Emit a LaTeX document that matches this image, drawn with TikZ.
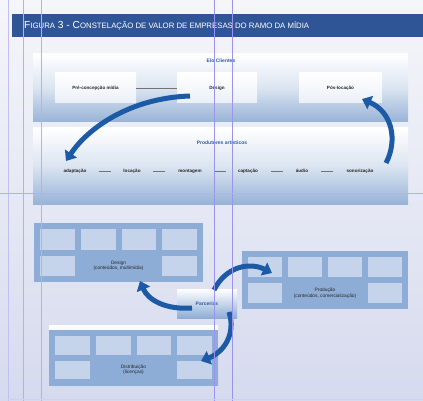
\documentclass[tikz,border=0pt]{standalone}
\usepackage{fontspec}
\setmainfont{Liberation Sans}
\usetikzlibrary{arrows.meta,calc}
\definecolor{bgtop}{HTML}{F5F6FA}
\definecolor{bgbot}{HTML}{D6DAEE}
\definecolor{titlebar}{HTML}{2F5597}
\definecolor{panelblue}{HTML}{98B3D6}
\definecolor{boxblue}{HTML}{8EADD6}
\definecolor{cellc}{HTML}{C6D4EB}
\definecolor{arrowc}{HTML}{1C5AA6}
\definecolor{ptitle}{HTML}{2A5DA8}
\definecolor{guidecyan}{HTML}{5FDCEA}
\definecolor{guidepurple}{HTML}{9A94EA}
\tikzset{
  panel/.style={inner sep=0, outer sep=0, top color=white, bottom color=panelblue, middle color=white!65!panelblue},
  wbox/.style={inner sep=0, outer sep=0, top color=white, bottom color=white!80!panelblue, font=\fontsize{4.6}{5}\selectfont\bfseries, text=black!85},
  gbox/.style={inner sep=0, outer sep=0, fill=boxblue},
  glabel/.style={font=\fontsize{4.8}{5.6}\selectfont, align=center, text=black!85},
  ptext/.style={font=\fontsize{5}{6}\selectfont\bfseries, text=ptitle},
  item/.style={font=\fontsize{4.6}{5}\selectfont\bfseries, text=black!85, inner sep=1pt, text height=3.4pt, text depth=1pt},
  dashline/.style={draw=black!55, line width=0.4pt},
  bigarrow/.style={draw=arrowc, line width=5pt, -{Triangle[length=9pt,width=14pt]}},
  guidev/.style={line width=0.6pt}
}
\newcommand\gridbox[6]{%
  \node[gbox, minimum width=#4, minimum height=#5, anchor=north west] (#1) at (#2,#3) {};
  \pgfmathsetmacro\cw{(#4-30)/4}
  \pgfmathsetmacro\ch{(#5-18)/2}
  \foreach \i in {0,1,2,3} {
    \fill[cellc] ({#2+6+\i*(\cw+6)},{#3+6}) rectangle ++(\cw,\ch);
  }
  \fill[cellc] ({#2+6},{#3+12+\ch}) rectangle ++(\cw,\ch);
  \fill[cellc] ({#2+6+3*(\cw+6)},{#3+12+\ch}) rectangle ++(\cw,\ch);
  \node[glabel] (#1l) at ({#2+#4/2},{#3+12+1.5*\ch}) {#6};
}
\begin{document}
\begin{tikzpicture}[x=1pt,y=-1pt]
\useasboundingbox (0,0) rectangle (423,401);
\fill[top color=bgtop, bottom color=bgbot] (0,0) rectangle (423,401);
% title bar
\node[fill=titlebar, inner sep=0, outer sep=0, minimum width=411, minimum height=23, anchor=north west] (tbar) at (12,14) {};
\node[anchor=west, text=white, inner sep=0, font=\fontsize{10.2}{11}\selectfont] (ttl) at (24,25.5)
  {F{\fontsize{7.8}{8}\selectfont IGURA} 3 - C{\fontsize{7.8}{8}\selectfont ONSTELAÇÃO DE VALOR DE EMPRESAS DO RAMO DA MÍDIA}};
% panel 1
\node[panel, minimum width=375, minimum height=68, anchor=north west] (p1) at (33,54) {};
\node[ptext] (p1t) at (221,61) {Elo Clientes};
\node[wbox, minimum width=81, minimum height=30] (pre) at (95.5,88) {Pré-concepção mídia};
\node[wbox, minimum width=80, minimum height=30] (des) at (217,88) {Design};
\node[wbox, minimum width=83, minimum height=30] (pos) at (340.5,88) {Pós-locação};
\draw[dashline] (pre) -- (des);
% panel 2
\node[panel, minimum width=375, minimum height=76, anchor=north west] (p2) at (33,128) {};
\node[ptext] (p2t) at (222,143) {Produtores artísticos};
\node[item] (i1) at (75,171) {adaptação};
\node[item] (i2) at (132,171) {locação};
\node[item] (i3) at (190,171) {montagem};
\node[item] (i4) at (248,171) {captação};
\node[item] (i5) at (302,171) {áudio};
\node[item] (i6) at (360,171) {sonorização};
\foreach \a/\b in {i1/i2,i2/i3,i3/i4,i4/i5,i5/i6}{
  \draw[dashline] ($(\a.east)!0.5!(\b.west)+(-6,0)$) -- ($(\a.east)!0.5!(\b.west)+(6,0)$);
}
% bottom boxes
\gridbox{gdes}{34}{223}{169}{59}{Design\\(conteúdos, multimídia)}
\gridbox{gprod}{242}{251}{166}{58}{Produção\\(conteúdos, comercialização)}
\shade[top color=white, bottom color=boxblue] (49,325) rectangle (218,385);
\gridbox{gdist}{49}{330}{169}{55}{Distribuição\\(licenças)}
\node[inner sep=0, outer sep=0, top color=white, bottom color=boxblue, minimum width=60, minimum height=29, font=\fontsize{5}{6}\selectfont\bfseries, text=ptitle] (parc) at (207,303.5) {Parcerias};
% arrows
\coordinate (a1s) at (190,96);
\coordinate (a1e) at (66,161);
\draw[bigarrow] (a1s) .. controls (130,98) and (88,128) .. (a1e);
\coordinate (a2s) at (386,163);
\coordinate (a2e) at (362,99);
\draw[bigarrow] (a2s) .. controls (398,140) and (392,112) .. (a2e);
\coordinate (a3s) at (214,290);
\coordinate (a3e) at (272,273);
\draw[bigarrow] (a3s) .. controls (226,266) and (250,262) .. (a3e);
\coordinate (a4s) at (192,308);
\coordinate (a4e) at (140,281);
\draw[bigarrow] (a4s) .. controls (166,310) and (148,300) .. (a4e);
\coordinate (a5s) at (229,312);
\coordinate (a5e) at (201,361);
\draw[bigarrow] (a5s) .. controls (236,334) and (224,352) .. (a5e);
% guide lines
\draw[guidev, draw=guidepurple!60] (8,0) -- (8,401);
\draw[guidev, draw=guidecyan] (23,0) -- (23,401);
\draw[guidev, draw=guidecyan] (41,0) -- (41,401);
\draw[guidev, draw=guidepurple] (214,0) -- (214,401);
\draw[guidev, draw=guidepurple] (232,0) -- (232,401);
\draw[guidev, draw=guidecyan] (0,193) -- (423,193);
\draw[line width=1pt, draw=guidepurple!45] (8,399) -- (423,399);
\end{tikzpicture}
\end{document}
